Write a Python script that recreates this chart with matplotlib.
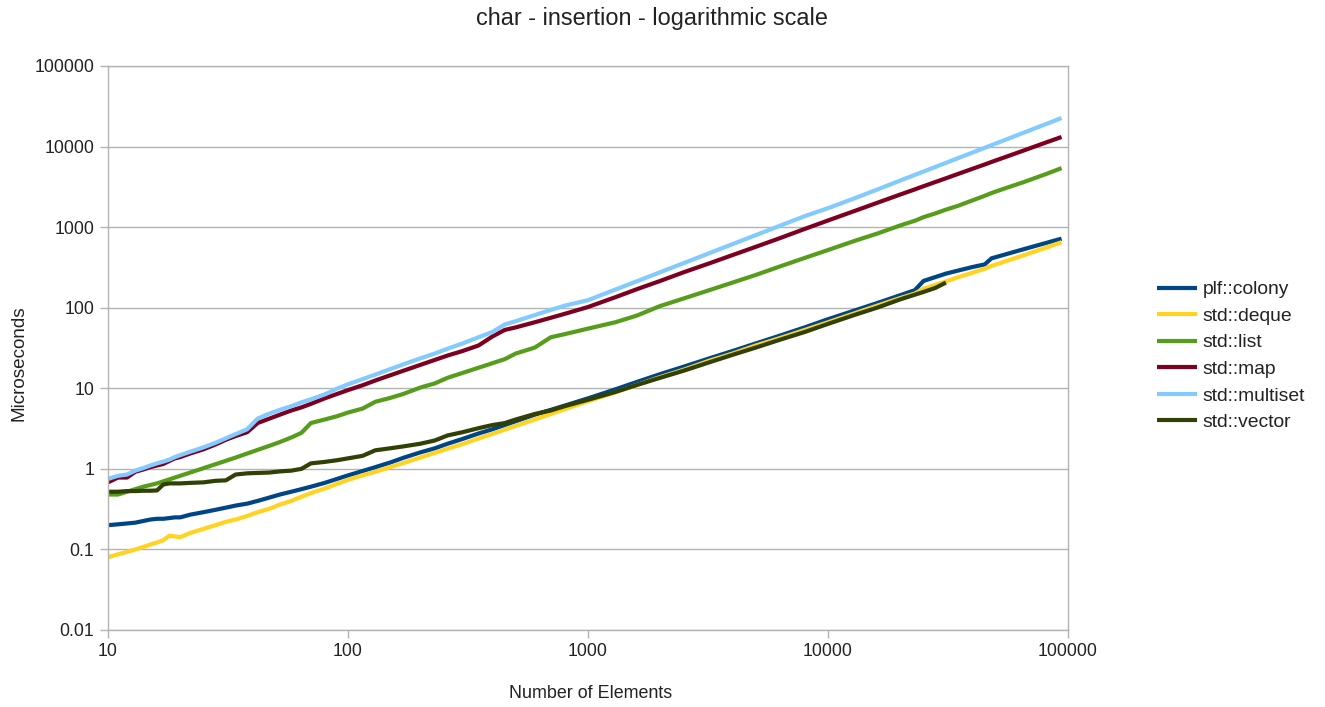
import numpy as np
import matplotlib
matplotlib.use("Agg")
import matplotlib.pyplot as plt
from matplotlib.ticker import FixedLocator, FixedFormatter, NullLocator

# Number of elements inserted
elements = [10, 11, 12, 13, 14, 15, 16, 17, 18, 19, 20, 22, 25, 28, 31, 34, 38, 42, 47, 52,
            58, 64, 70, 80, 90, 100, 115, 130, 150, 170, 200, 230, 260, 300, 350, 400, 450,
            500, 600, 700, 800, 1000, 1300, 1600, 2000, 2500, 3200, 4000, 5000, 6300, 8000,
            10000, 13000, 16000, 20000, 23000, 25000, 28000, 31000, 35000, 40000, 45000,
            48000, 55000, 65000, 80000, 94000]

# Insertion time in microseconds
plf_colony = [0.20, 0.205, 0.21, 0.215, 0.225, 0.235, 0.24, 0.24, 0.245, 0.25, 0.25, 0.27,
              0.29, 0.31, 0.33, 0.35, 0.37, 0.40, 0.44, 0.48, 0.52, 0.56, 0.60, 0.67, 0.75,
              0.83, 0.94, 1.05, 1.2, 1.37, 1.6, 1.8, 2.05, 2.35, 2.75, 3.1, 3.5, 3.9, 4.7,
              5.4, 6.1, 7.5, 9.7, 12, 15, 18.5, 23.5, 29, 36, 45, 57, 72, 93, 114, 143, 165,
              215, 240, 265, 290, 320, 345, 410, 460, 530, 630, 720]

std_deque = [0.08, 0.087, 0.093, 0.10, 0.107, 0.115, 0.122, 0.13, 0.148, 0.145, 0.142, 0.16,
             0.18, 0.20, 0.22, 0.235, 0.26, 0.29, 0.32, 0.36, 0.40, 0.45, 0.50, 0.57, 0.65,
             0.73, 0.83, 0.92, 1.05, 1.18, 1.38, 1.58, 1.78, 2.03, 2.38, 2.72, 3.07, 3.42,
             4.1, 4.8, 5.5, 6.9, 8.9, 11, 13.8, 17, 22, 27, 34, 42, 53, 66, 86, 106, 132,
             150, 172, 192, 212, 240, 272, 305, 330, 378, 445, 550, 650]

std_list = [0.48, 0.48, 0.52, 0.56, 0.60, 0.63, 0.66, 0.70, 0.74, 0.78, 0.82, 0.90, 1.02,
            1.14, 1.26, 1.38, 1.55, 1.72, 1.93, 2.15, 2.45, 2.8, 3.7, 4.1, 4.5, 5.0, 5.6,
            6.8, 7.6, 8.5, 10.2, 11.5, 13.5, 15.5, 18, 20.5, 23, 27, 32, 43, 47, 55, 66, 80,
            105, 130, 165, 205, 255, 325, 415, 520, 680, 830, 1050, 1200, 1330, 1480, 1650,
            1850, 2150, 2450, 2650, 3050, 3600, 4500, 5400]

std_map = [0.68, 0.78, 0.78, 0.92, 0.98, 1.05, 1.10, 1.15, 1.25, 1.35, 1.40, 1.55, 1.75, 2.0,
           2.3, 2.55, 2.85, 3.7, 4.2, 4.7, 5.3, 5.8, 6.4, 7.5, 8.5, 9.5, 10.9, 12.5, 14.5,
           16.5, 19.5, 22.5, 25.5, 29, 34, 44, 53, 57, 66, 75, 84, 102, 135, 170, 215, 275,
           355, 450, 570, 730, 950, 1210, 1600, 2000, 2540, 2940, 3220, 3630, 4040, 4600,
           5300, 6000, 6440, 7440, 8880, 11100, 13150]

std_multiset = [0.75, 0.82, 0.85, 0.95, 1.02, 1.10, 1.17, 1.23, 1.30, 1.40, 1.48, 1.63, 1.85,
                2.1, 2.4, 2.7, 3.1, 4.2, 4.85, 5.4, 6.0, 6.7, 7.3, 8.4, 9.9, 11.2, 13, 14.8,
                17.3, 19.8, 23.5, 27, 31, 36, 43, 50, 62, 68, 81, 94, 106, 124, 168, 213, 276,
                357, 475, 615, 796, 1040, 1370, 1720, 2300, 2920, 3790, 4450, 4900, 5580,
                6280, 7230, 8430, 9660, 10410, 12180, 14770, 18770, 22600]

std_vector = [0.52, 0.52, 0.53, 0.53, 0.535, 0.535, 0.54, 0.64, 0.66, 0.66, 0.66, 0.67, 0.68,
              0.71, 0.72, 0.85, 0.88, 0.89, 0.90, 0.93, 0.95, 1.0, 1.17, 1.22, 1.28, 1.35,
              1.45, 1.7, 1.8, 1.9, 2.05, 2.25, 2.6, 2.85, 3.2, 3.5, 3.7, 4.1, 4.8, 5.3, 6.0,
              7.2, 9.0, 11, 13.5, 16.5, 21, 26, 32, 40, 50, 63, 82, 100, 127, 145, 157, 176,
              205, None, None, None, None, None, None, None, None]

series_names = ["plf::colony", "std::deque", "std::list", "std::map", "std::multiset",
                "std::vector"]
series_values = [plf_colony, std_deque, std_list, std_map, std_multiset, std_vector]
series_colors = ["#004586", "#ffd320", "#579d1c", "#7e0021", "#83caff", "#314004"]

y_ticks = [0.01, 0.1, 1, 10, 100, 1000, 10000, 100000]
y_tick_labels = ["0.01", "0.1", "1", "10", "100", "1000", "10000", "100000"]
x_ticks = [10, 100, 1000, 10000, 100000]
x_tick_labels = ["10", "100", "1000", "10000", "100000"]

plt.rcParams["font.family"] = ["Liberation Sans", "DejaVu Sans"]
text_color = "#222222"
grid_color = "#b3b3b3"

fig = plt.figure(figsize=(13.25, 7.07), dpi=100)
ax = fig.add_axes([108 / 1325, 1 - 630 / 707, 960 / 1325, 564 / 707])

x = np.array(elements, dtype=float)
for name, vals, color in zip(series_names, series_values, series_colors):
    y = np.array([np.nan if v is None else v for v in vals], dtype=float)
    ax.plot(x, y, color=color, linewidth=3.0, label=name, solid_joinstyle="round",
            solid_capstyle="butt")

ax.set_xscale("log")
ax.set_yscale("log")
ax.set_xlim(10, 100000)
ax.set_ylim(0.01, 100000)

ax.xaxis.set_major_locator(FixedLocator(x_ticks))
ax.xaxis.set_major_formatter(FixedFormatter(x_tick_labels))
ax.xaxis.set_minor_locator(NullLocator())
ax.yaxis.set_major_locator(FixedLocator(y_ticks))
ax.yaxis.set_major_formatter(FixedFormatter(y_tick_labels))
ax.yaxis.set_minor_locator(NullLocator())

ax.grid(axis="y", color=grid_color, linewidth=1.0)
ax.set_axisbelow(True)
for side in ["left", "right", "top", "bottom"]:
    ax.spines[side].set_color(grid_color)
    ax.spines[side].set_linewidth(1.0)

ax.tick_params(axis="both", colors=grid_color, labelcolor=text_color, labelsize=12.7,
               length=6, width=1.0, direction="out")
ax.tick_params(axis="y", pad=4)
ax.tick_params(axis="x", pad=3)

fig.text(652 / 1325, 1 - 19 / 707, "char - insertion - logarithmic scale", ha="center",
         va="center", fontsize=16.9, color=text_color)
fig.text(591 / 1325, 1 - 693 / 707, "Number of Elements", ha="center", va="center",
         fontsize=12.9, color=text_color)
fig.text(19 / 1325, 1 - 363 / 707, "Microseconds", ha="center", va="center",
         rotation=90, fontsize=13.6, color=text_color)

leg = fig.legend(loc="center left", bbox_to_anchor=(1157 / 1325, 1 - 356 / 707),
                 frameon=False, fontsize=13.9, handlelength=2.05, handletextpad=0.32,
                 labelspacing=0.47, borderaxespad=0, borderpad=0)
for t in leg.get_texts():
    t.set_color(text_color)

fig.savefig("out.png", dpi=100)
